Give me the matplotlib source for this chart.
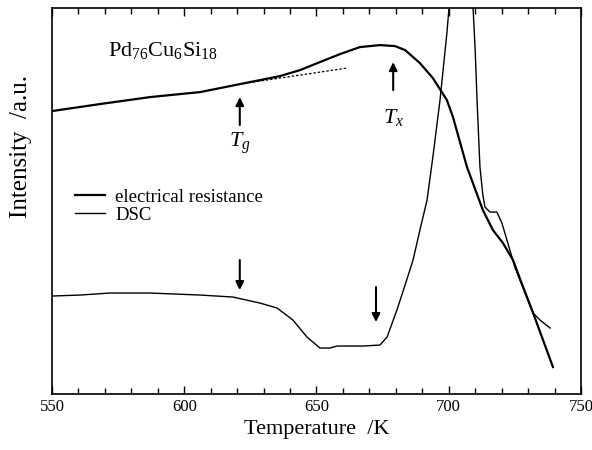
import numpy as np
import matplotlib
matplotlib.use('Agg')
import matplotlib.pyplot as plt
from matplotlib.ticker import MultipleLocator

plt.rcParams['font.family'] = ['Liberation Serif', 'DejaVu Serif']
plt.rcParams['mathtext.fontset'] = 'custom'
plt.rcParams['mathtext.rm'] = 'Liberation Serif'
plt.rcParams['mathtext.it'] = 'Liberation Serif:italic'

# electrical resistance (arbitrary units)
er_T = [550, 568.1, 587.1, 606, 621.1, 636.2, 643.8, 651.3, 658.9, 666.4,
        674, 679.7, 683.5, 689.1, 694, 699.3, 701.6, 706.9, 712.9, 716.7,
        720.5, 724.3, 727.1, 731.9, 739.4]
er_y = [283, 290, 297, 302, 310, 318, 324, 332, 340, 347,
        349, 348, 344, 331, 316, 294, 277, 227, 184, 164,
        151, 134, 114, 81, 27]

# DSC trace (peak runs off the top of the frame)
dsc_T = [550, 560.6, 571.9, 587.1, 606, 618.4, 628.6, 635.1, 641.1, 646.4,
         651.3, 655.1, 657.8, 667.6, 674, 676.7, 680.4, 683.5, 686.5, 689.1,
         691.8, 694, 696.7, 699.3, 700.1, 702, 704.5, 707, 709.2, 710,
         710.7, 711.8, 712.9, 713.7, 715.6, 718.2, 720.1, 722, 725, 731.9,
         734.5, 738.3]
dsc_y = [98, 99, 101, 101, 99, 97, 91, 86, 74, 57,
         46, 46, 48, 48, 49, 57, 84, 109, 134, 164,
         194, 237, 294, 361, 386, 430, 460, 430, 386, 344,
         294, 227, 199, 187, 182, 182, 171, 154, 127, 81,
         74, 66]

# extrapolated line below Tg
ext_T = [621, 661.5]
ext_y = [310, 326]

# arrows: (x, y_tail, y_head)
arrows = [(621, 269, 297), (679, 304, 332), (621, 134, 104), (672.5, 107, 72)]
labels = [(621, 251, r'$T_g$'), (679, 277, r'$T_x$')]

fig = plt.figure(figsize=(5.92, 4.5), dpi=100)
ax = fig.add_axes([0.0878, 0.1244, 0.8936, 0.8576])

ax.plot(er_T, er_y, color='black', lw=1.6, label='electrical resistance',
        solid_joinstyle='round')
ax.plot(dsc_T, dsc_y, color='black', lw=1.0, label='DSC',
        solid_joinstyle='round')
ax.plot(ext_T, ext_y, color='black', lw=0.9, ls=(0, (2, 1.5)))

for x, y0, y1 in arrows:
    ax.annotate('', xy=(x, y1), xytext=(x, y0),
                arrowprops=dict(arrowstyle='-|>', color='black', lw=1.5,
                                mutation_scale=12, shrinkA=0, shrinkB=0))
for x, y, s in labels:
    ax.text(x, y, s, ha='center', va='center', fontsize=16)

ax.text(571, 344, r'Pd$_{76}$Cu$_{6}$Si$_{18}$', fontsize=16, va='center')

ax.set_xlim(550, 750)
ax.set_ylim(0, 386)
ax.xaxis.set_major_locator(MultipleLocator(50))
ax.xaxis.set_minor_locator(MultipleLocator(10))
ax.tick_params(axis='x', which='both', direction='in', top=True, labelsize=12)
ax.tick_params(axis='x', which='major', length=6, width=1)
ax.tick_params(axis='x', which='minor', length=4, width=1)
ax.set_yticks([])
for s in ax.spines.values():
    s.set_linewidth(1.2)

ax.set_xlabel('Temperature  /K', fontsize=16, labelpad=4)
ax.set_ylabel('Intensity  /a.u.', fontsize=18)
ax.yaxis.set_label_coords(-0.038, 0.642)

ax.legend(loc='upper left', bbox_to_anchor=(0.029, 0.552), frameon=False,
          fontsize=13.5, handlelength=1.6, handletextpad=0.55,
          labelspacing=0.05, borderaxespad=0)

fig.savefig('out.png', dpi=100)
